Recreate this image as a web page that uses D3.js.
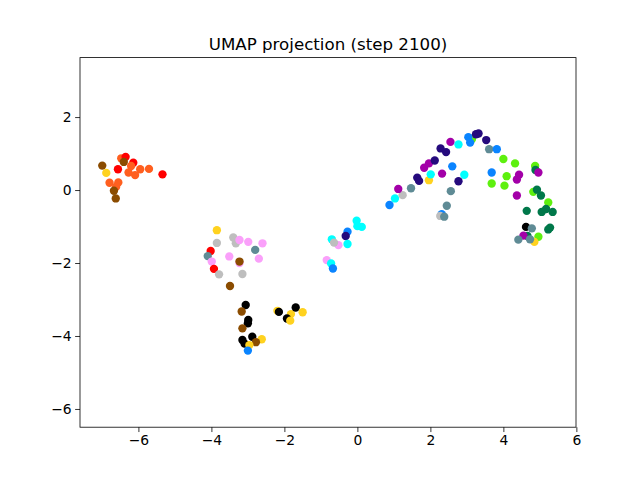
<!DOCTYPE html>
<html>
<head>
<meta charset="utf-8">
<script src="https://cdn.jsdelivr.net/npm/d3@7"></script>
<style>
  html, body { margin: 0; padding: 0; background: #fff; }
  svg { display: block; }
  text { font-family: "DejaVu Sans", sans-serif; fill: #000; }
</style>
</head>
<body>
<svg id="chart" width="640" height="480"></svg>
<script>
// ---- data ----
const title = "UMAP projection (step 2100)";
const categories = ["red","orange","brown","gold","silver","violet","slate","black","blue","cyan","indigo","purple","lime","green"];
const categoryColors = ["#ff0000","#ff5f1f","#8b4c00","#ffd21f","#bebebe","#faa0fa","#5f8b95","#000000","#0a84ff","#00ffff","#250a7d","#a300a8","#5ef00f","#00784a"];
const xTicks = [-6, -4, -2, 0, 2, 4, 6];
const yTicks = [-6, -4, -2, 0, 2];
const xLimits = [-7.6, 5.99];
const yLimits = [-6.5, 3.63];

const xs = [
  -6.99,-6.88,-6.47,-6.35,-6.40,-6.14,-6.56,-6.27,-6.09,-5.95,-6.20,-5.71,-5.34,-6.79,-6.55,-6.61,-6.67,-6.62,
  -3.85,-3.40,-3.33,-3.23,-2.99,-2.60,-3.85,-4.02,-4.10,-2.80,-3.51,-2.70,-3.99,-3.23,-3.23,-3.93,-3.79,-3.15,-3.49,
  -3.06,-3.17,-2.99,-3.00,-3.15,-3.15,-3.09,-2.88,-2.62,-2.78,-2.96,-3.00,-2.19,-2.15,-1.82,-1.69,-1.93,-1.84,-1.50,
  -0.02,0.12,0.00,-0.27,-0.32,-0.27,-0.70,-0.52,-0.64,-0.84,-0.72,-0.67,
  0.88,1.03,1.24,1.12,1.47,1.64,1.69,1.96,2.01,1.83,1.96,2.12,2.32,2.28,2.43,2.55,2.77,2.60,2.93,2.77,2.56,2.45,2.31,2.27,2.38,
  3.14,3.04,3.09,3.25,3.32,3.53,3.61,3.82,4.00,4.32,4.87,4.88,4.96,3.68,4.09,4.43,4.37,3.68,4.03,4.37,4.82,4.92,5.03,5.23,5.17,5.05,5.35,4.64,5.28,5.23,
  4.62,4.78,4.66,4.55,4.96,4.85,4.41,4.73
];
const ys = [
  0.67,0.47,0.87,0.91,0.77,0.75,0.57,0.48,0.41,0.57,0.66,0.58,0.43,0.20,0.21,0.09,-0.02,-0.23,
  -1.10,-1.30,-1.46,-1.37,-1.42,-1.46,-1.45,-1.67,-1.81,-1.64,-1.82,-1.88,-1.96,-2.00,-1.96,-2.16,-2.31,-2.30,-2.63,
  -3.15,-3.33,-3.56,-3.65,-3.79,-4.11,-4.21,-4.02,-4.09,-4.17,-4.25,-4.40,-3.31,-3.34,-3.40,-3.22,-3.52,-3.58,-3.35,
  -0.84,-1.01,-0.99,-1.14,-1.26,-1.48,-1.35,-1.51,-1.44,-1.92,-2.01,-2.15,
  -0.41,-0.23,-0.14,0.03,0.05,0.34,0.25,0.27,0.43,0.61,0.73,0.81,0.45,1.14,1.04,1.32,1.25,0.65,0.42,0.24,-0.03,-0.43,-0.66,-0.71,-0.73,
  1.40,1.45,1.30,1.53,1.55,1.37,1.12,1.12,0.85,0.73,0.66,0.55,0.48,0.48,0.38,0.42,0.29,0.18,0.12,-0.15,-0.05,0.01,-0.15,-0.34,-0.52,-0.60,-0.60,-0.57,-1.03,-1.08,
  -1.01,-1.05,-1.26,-1.25,-1.28,-1.42,-1.36,-1.35
];
const labels = [
  "brown","gold","orange","red","brown","red","red","orange","orange","orange","orange","orange","red","orange","orange","orange","brown","brown",
  "gold","silver","silver","violet","violet","violet","silver","red","slate","slate","violet","violet","violet","violet","brown","red","silver","silver","brown",
  "black","brown","black","black","brown","black","black","black","gold","brown","gold","blue","gold","black","gold","black","black","gold","gold",
  "cyan","cyan","cyan","blue","indigo","cyan","cyan","violet","silver","violet","cyan","blue",
  "blue","cyan","silver","purple","slate","indigo","indigo","gold","cyan","purple","purple","indigo","purple","indigo","indigo","purple","cyan","blue","cyan","indigo","slate","slate","blue","silver","slate",
  "lime","blue","blue","indigo","indigo","indigo","slate","blue","lime","lime","lime","green","purple","blue","lime","purple","purple","lime","lime","purple","lime","green","green","lime","green","green","green","green","green","green",
  "black","slate","green","purple","lime","gold","slate","slate"
];

(function () {
  const svg = d3.select("#chart");
  const W = 640, H = 480;
  const mLeft = 80, mRight = 576, mTop = 57.6, mBottom = 427.2;

  const x = d3.scaleLinear().domain(xLimits).range([mLeft, mRight]);
  const y = d3.scaleLinear().domain(yLimits).range([mBottom, mTop]);
  const color = d3.scaleOrdinal().domain(categories).range(categoryColors);

  svg.append("rect").attr("width", W).attr("height", H).attr("fill", "#fff");

  svg.append("clipPath").attr("id", "plotclip")
    .append("rect").attr("x", mLeft).attr("y", mTop).attr("width", mRight - mLeft).attr("height", mBottom - mTop);

  const pts = xs.map((v, i) => ({ x: v, y: ys[i], c: labels[i] }));
  svg.append("g").attr("clip-path", "url(#plotclip)")
    .selectAll("circle").data(pts).join("circle")
    .attr("cx", d => x(d.x))
    .attr("cy", d => y(d.y))
    .attr("r", 4.17)
    .attr("fill", d => color(d.c));

  const fmt = v => (v < 0 ? "\u2212" + Math.abs(v) : String(v));

  const xAxis = d3.axisBottom(x).tickValues(xTicks).tickSize(4.86).tickPadding(3.5).tickFormat(fmt);
  const yAxis = d3.axisLeft(y).tickValues(yTicks).tickSize(4.86).tickPadding(3.5).tickFormat(fmt);

  const gx = svg.append("g").attr("transform", `translate(0,${mBottom})`).call(xAxis);
  const gy = svg.append("g").attr("transform", `translate(${mLeft},0)`).call(yAxis);
  [gx, gy].forEach(g => {
    g.select(".domain").remove();
    g.selectAll(".tick line").attr("stroke", "#000").attr("stroke-width", 0.8);
    g.selectAll(".tick text").attr("font-size", "13.89px").attr("font-family", "DejaVu Sans, sans-serif").attr("fill", "#000");
  });

  svg.append("rect")
    .attr("x", mLeft).attr("y", mTop).attr("width", mRight - mLeft).attr("height", mBottom - mTop)
    .attr("fill", "none").attr("stroke", "#000").attr("stroke-width", 0.8);

  svg.append("text")
    .attr("x", (mLeft + mRight) / 2).attr("y", mTop - 8)
    .attr("text-anchor", "middle")
    .attr("font-size", "16.67px")
    .text(title);
})();
</script>
</body>
</html>
